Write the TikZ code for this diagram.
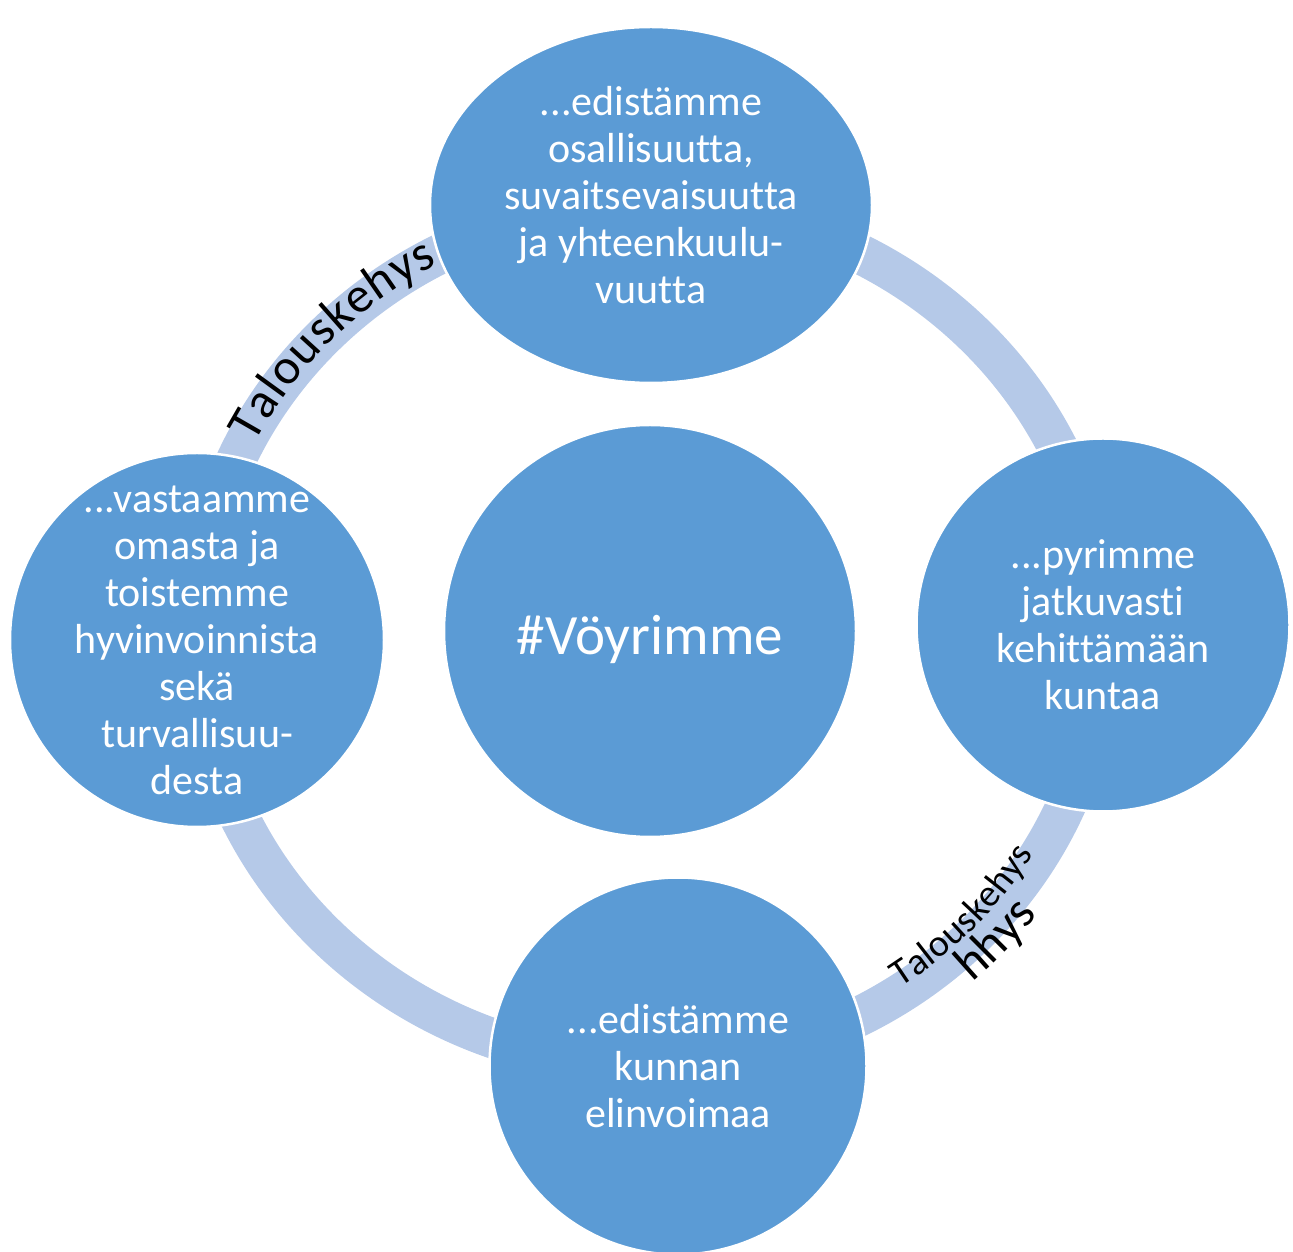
\documentclass[tikz,border=0pt]{standalone}
\usepackage{fontspec}
\setmainfont{Carlito}[Ligatures={NoCommon}]
\usetikzlibrary{shapes.geometric,decorations.text}
\definecolor{bubble}{RGB}{91,155,213}
\definecolor{band}{RGB}{181,201,232}

\begin{document}
\begin{tikzpicture}[x=1pt, y=1pt,
        main/.style = {draw=white, line width=2.5pt, fill=bubble, circle, inner sep=0pt},
        word/.style = {text=white, align=center, font=\fontsize{42}{47}\selectfont},
        curved/.style = {decorate, decoration={text along path, text={|\fontsize{#1}{#1}\selectfont|Talouskehys}, text align={fit to path}}}]
        \useasboundingbox (0,0) rectangle (1293,1251);
        \coordinate (O) at (650,616);

        % ring
        \draw[band, line width=40pt] (O) ellipse [x radius=453, y radius=430];

        % circles
        \node[main, ellipse, minimum width=442, minimum height=356] (T) at (651,1046) {};
        \node[main, minimum size=374] (L) at (197,611) {};
        \node[main, minimum size=373] (R) at (1103,626) {};
        \node[main, minimum size=377] (B) at (678,185) {};
        \node[main, minimum size=412] (C) at (650,620) {};

        \node[word] (Ttxt) at ([yshift=10]T.center) {.{}.{}.edistämme\\osallisuutta,\\suvaitsevaisuutta\\ja yhteenkuulu-\\vuutta};
        \node[word] (Ltxt) at (L.center) {.{}.{}.vastaamme\\omasta ja\\toistemme\\hyvinvoinnista\\sekä\\turvallisuu-\\desta};
        \node[word] (Rtxt) at (R.center) {.{}.{}.pyrimme\\jatkuvasti\\kehittämään\\kuntaa};
        \node[word] (Btxt) at (B.center) {.{}.{}.edistämme\\kunnan\\elinvoimaa};
        \node[word, font=\fontsize{57}{60}\selectfont] (Ctxt) at ([yshift=-8]C.center) {\#Vöyrimme};

        % labels on the ring
        \path[curved=50] ([shift={(O)}]153:444 and 422) arc[start angle=153, end angle=118.5, x radius=444, y radius=422];
        \path[curved=38] ([shift={(O)}]-56:448 and 425) arc[start angle=-56, end angle=-31, x radius=448, y radius=425];
        \path[decorate, decoration={text along path, text={|\fontsize{50}{50}\selectfont|hhys}, text align=center}] ([shift={(O)}]-51:486 and 464) arc[start angle=-51, end angle=-34.5, x radius=486, y radius=464];
    \end{tikzpicture}
\end{document}
